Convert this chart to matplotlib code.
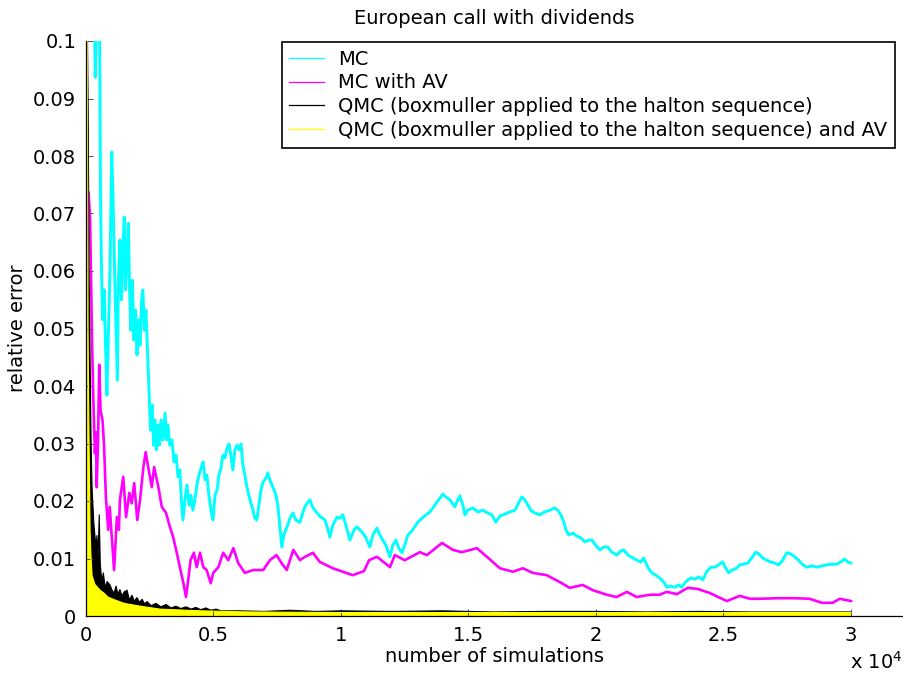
import matplotlib
matplotlib.use("Agg")
import matplotlib.pyplot as plt
from matplotlib.lines import Line2D
from matplotlib.ticker import FixedLocator, FuncFormatter

plt.rcParams["font.family"] = ["DejaVu Sans"]

# ---- data: relative error vs. number of simulations ----
mc_x = [20, 270, 360, 430, 530, 570, 610, 650, 710, 760, 820, 880, 940, 1010,
        1060, 1120, 1180, 1230, 1270, 1330, 1390, 1450, 1500, 1550, 1610, 1660,
        1710, 1760, 1820, 1880, 1940, 2000, 2060, 2120, 2180, 2230, 2290, 2350,
        2410, 2470, 2530, 2590, 2650, 2700, 2760, 2820, 2880, 2940, 3020, 3100,
        3160, 3210, 3290, 3370, 3450, 3530, 3610, 3680, 3740, 3800, 3880, 3960,
        4040, 4120, 4190, 4270, 4350, 4430, 4510, 4590, 4670, 4740, 4820, 4900,
        4980, 5060, 5140, 5210, 5290, 5370, 5450, 5530, 5610, 5680, 5760, 5840,
        5920, 6000, 6080, 6150, 6230, 6310, 6430, 6550, 6620, 6700, 6780, 6860,
        6940, 7060, 7130, 7210, 7330, 7450, 7530, 7600, 7680, 7760, 7880, 8000,
        8110, 8230, 8390, 8510, 8620, 8780, 8900, 9060, 9210, 9370, 9490, 9560,
        9680, 9840, 9960, 10070, 10190, 10350, 10510, 10620, 10740, 10860, 10980,
        11130, 11250, 11410, 11520, 11640, 11760, 11920, 12030, 12150, 12270,
        12390, 12500, 12620, 12740, 12860, 13010, 13170, 13330, 13490, 13640,
        13760, 13880, 13990, 14110, 14270, 14460, 14580, 14660, 14780, 14860,
        14970, 15170, 15370, 15560, 15760, 15920, 16070, 16230, 16420, 16620,
        16820, 16970, 17090, 17210, 17330, 17440, 17600, 17800, 17990, 18190,
        18380, 18500, 18620, 18740, 18820, 18930, 19090, 19250, 19400, 19560,
        19720, 19840, 19990, 20150, 20310, 20460, 20620, 20820, 20970, 21090,
        21250, 21440, 21600, 21760, 21870, 22030, 22190, 22340, 22500, 22660,
        22780, 22930, 23090, 23250, 23360, 23480, 23600, 23720, 23870, 24030,
        24190, 24340, 24500, 24660, 24810, 24970, 25090, 25210, 25320, 25480,
        25640, 25790, 25950, 26110, 26260, 26380, 26540, 26700, 26850, 27010,
        27170, 27320, 27480, 27640, 27790, 27950, 28110, 28260, 28460, 28660,
        28850, 29050, 29240, 29440, 29600, 29750, 29870, 30000]
mc_err = [0.2, 0.13, 0.0937, 0.105, 0.105, 0.0723, 0.0602, 0.0515, 0.0567,
          0.048, 0.0384, 0.0497, 0.0602, 0.0807, 0.0723, 0.0602, 0.0497, 0.041,
          0.0584, 0.0654, 0.055, 0.0637, 0.0694, 0.0567, 0.0619, 0.0683, 0.0567,
          0.0497, 0.0584, 0.048, 0.0532, 0.0454, 0.0515, 0.0471, 0.055, 0.0567,
          0.0497, 0.0532, 0.0463, 0.0393, 0.0323, 0.0367, 0.0297, 0.0341, 0.0289,
          0.0332, 0.0297, 0.0341, 0.0306, 0.0353, 0.0306, 0.0332, 0.0297, 0.0306,
          0.0268, 0.028, 0.0242, 0.0254, 0.0202, 0.0167, 0.0202, 0.0228, 0.0193,
          0.021, 0.0184, 0.0202, 0.0228, 0.0245, 0.0257, 0.0268, 0.0237, 0.0245,
          0.021, 0.0184, 0.0167, 0.021, 0.0219, 0.0245, 0.0257, 0.028, 0.0275,
          0.0292, 0.0299, 0.028, 0.0254, 0.0289, 0.0297, 0.0289, 0.0299, 0.0263,
          0.0245, 0.0224, 0.0202, 0.0184, 0.017, 0.0167, 0.0193, 0.0219, 0.0233,
          0.024, 0.0249, 0.0237, 0.0224, 0.021, 0.019, 0.0158, 0.012, 0.0141,
          0.0155, 0.017, 0.0179, 0.0167, 0.0163, 0.0181, 0.0193, 0.0202, 0.0188,
          0.0179, 0.0172, 0.0167, 0.015, 0.0137, 0.0158, 0.0172, 0.017, 0.0176,
          0.0158, 0.0132, 0.015, 0.0155, 0.015, 0.0144, 0.0136, 0.012, 0.0141,
          0.0153, 0.0141, 0.0132, 0.0123, 0.0103, 0.0123, 0.0132, 0.0118, 0.011,
          0.0123, 0.0141, 0.0146, 0.0153, 0.0163, 0.017, 0.0176, 0.0181, 0.019,
          0.0198, 0.0205, 0.0212, 0.0207, 0.0202, 0.019, 0.0202, 0.0209, 0.0193,
          0.0176, 0.0184, 0.0188, 0.0181, 0.0184, 0.0179, 0.0176, 0.0163, 0.0174,
          0.0177, 0.0181, 0.0184, 0.0197, 0.0207, 0.0202, 0.0193, 0.0184, 0.0179,
          0.0176, 0.0181, 0.0184, 0.0188, 0.0184, 0.0176, 0.0163, 0.015, 0.0141,
          0.0144, 0.0139, 0.0136, 0.0129, 0.0132, 0.0132, 0.0123, 0.0115, 0.012,
          0.012, 0.0111, 0.0106, 0.0113, 0.0115, 0.0106, 0.0101, 0.0097, 0.0094,
          0.0101, 0.0085, 0.0075, 0.0071, 0.0066, 0.0059, 0.005, 0.0052, 0.005,
          0.0054, 0.005, 0.0057, 0.0063, 0.0066, 0.0064, 0.0068, 0.0063, 0.0077,
          0.0085, 0.0085, 0.0089, 0.0094, 0.0083, 0.0075, 0.008, 0.0082, 0.0089,
          0.009, 0.0092, 0.0101, 0.0111, 0.0108, 0.0101, 0.0097, 0.0094, 0.0092,
          0.0089, 0.0097, 0.011, 0.0108, 0.0103, 0.0097, 0.0089, 0.0085, 0.0087,
          0.0085, 0.0087, 0.0089, 0.009, 0.009, 0.0094, 0.0099, 0.0094, 0.0092]

mcav_x = [20, 100, 160, 200, 240, 280, 310, 350, 390, 420, 470, 520, 570, 650,
          710, 780, 870, 930, 1000, 1040, 1100, 1150, 1210, 1290, 1330, 1460,
          1570, 1700, 1790, 1890, 2010, 2120, 2250, 2340, 2440, 2580, 2670, 2840,
          2970, 3140, 3290, 3420, 3560, 3680, 3820, 3920, 4010, 4100, 4230, 4340,
          4470, 4600, 4730, 4890, 4990, 5190, 5380, 5580, 5780, 5970, 6230, 6560,
          6950, 7210, 7470, 7670, 7870, 8130, 8390, 8510, 8900, 9170, 9680, 10460,
          10900, 11100, 11410, 11920, 12110, 12500, 13090, 13370, 13960, 14390,
          14740, 15330, 15720, 16230, 16740, 17130, 17520, 18070, 18580, 18970,
          19480, 19870, 20420, 20810, 21210, 21600, 22110, 22500, 22770, 23170,
          23600, 23990, 24460, 25130, 25640, 26030, 26420, 27200, 27710, 28380,
          28850, 29280, 29560, 30000]
mcav_err = [0.066, 0.0737, 0.069, 0.058, 0.047, 0.039, 0.034, 0.0283, 0.032,
            0.0224, 0.03, 0.0437, 0.0358, 0.034, 0.0294, 0.0207, 0.015, 0.019,
            0.0144, 0.012, 0.008, 0.012, 0.0172, 0.015, 0.0202, 0.0242, 0.0172,
            0.0214, 0.0196, 0.0231, 0.0167, 0.0202, 0.0259, 0.0285, 0.0259,
            0.0224, 0.0259, 0.0224, 0.019, 0.0179, 0.0155, 0.0137, 0.011, 0.0085,
            0.0057, 0.0033, 0.0063, 0.0097, 0.011, 0.0085, 0.011, 0.0085, 0.008,
            0.0057, 0.0075, 0.0085, 0.011, 0.0097, 0.0118, 0.0092, 0.0075, 0.008,
            0.008, 0.0097, 0.0106, 0.0092, 0.008, 0.0115, 0.0097, 0.0101, 0.011,
            0.0094, 0.0083, 0.0071, 0.0078, 0.0097, 0.0103, 0.0085, 0.0106,
            0.0097, 0.0111, 0.0106, 0.0127, 0.0115, 0.0111, 0.0118, 0.0103,
            0.0083, 0.0077, 0.0083, 0.0075, 0.0071, 0.0059, 0.0049, 0.0054,
            0.0045, 0.0037, 0.0033, 0.0042, 0.0033, 0.0037, 0.0037, 0.0042,
            0.0038, 0.0049, 0.0047, 0.004, 0.0026, 0.0035, 0.003, 0.003, 0.0031,
            0.0031, 0.003, 0.0023, 0.0023, 0.003, 0.0026]

qmc_x = [10, 60, 90, 120, 160, 200, 240, 310, 390, 430, 470, 520, 560, 620,
         680, 750, 830, 940, 1020, 1100, 1180, 1250, 1330, 1410, 1500, 1610,
         1700, 1800, 1900, 2000, 2100, 2200, 2300, 2390, 2560, 2740, 2940, 3140,
         3330, 3530, 3720, 3920, 4120, 4310, 4500, 4700, 4900, 5100, 5300, 6000,
         7000, 8000, 9000, 10000, 12000, 14000, 16000, 18000, 20000, 22000,
         24000, 26000, 28000, 30000]
qmc_err = [0.15, 0.1, 0.085, 0.06, 0.045, 0.03, 0.022, 0.016, 0.012, 0.014,
           0.01, 0.0176, 0.009, 0.006, 0.0075, 0.005, 0.006, 0.0054, 0.0045,
           0.004, 0.0052, 0.0038, 0.0046, 0.0035, 0.0042, 0.0045, 0.0028,
           0.0036, 0.0026, 0.0032, 0.0024, 0.0029, 0.0021, 0.0025, 0.0018,
           0.0022, 0.0016, 0.002, 0.0014, 0.0017, 0.0013, 0.0016, 0.0012,
           0.0015, 0.0011, 0.0014, 0.001, 0.0012, 0.0009, 0.0009, 0.0008,
           0.001, 0.0008, 0.0009, 0.0008, 0.0009, 0.0007, 0.0008, 0.0008,
           0.0007, 0.0008, 0.0007, 0.0007, 0.0007]

qmcav_x = [10, 50, 80, 120, 160, 200, 240, 350, 550, 700, 860, 1130, 1500,
           2000, 2900, 4500, 6500, 10000, 20000, 30000]
qmcav_err = [0.12, 0.1, 0.05, 0.03, 0.015, 0.01, 0.007, 0.0055, 0.0045, 0.004,
             0.0033, 0.0028, 0.0022, 0.0018, 0.0012, 0.0009, 0.0007, 0.0006,
             0.0006, 0.0006]

labels = ["MC", "MC with AV",
          "QMC (boxmuller applied to the halton sequence)",
          "QMC (boxmuller applied to the halton sequence) and AV"]
colors = ["#00ffff", "#ff00ff", "#000000", "#ffff00"]

x_ticks = [0, 5000, 10000, 15000, 20000, 25000, 30000]
y_ticks = [0, 0.01, 0.02, 0.03, 0.04, 0.05, 0.06, 0.07, 0.08, 0.09, 0.1]

FS = 14

fig = plt.figure(figsize=(9.04, 6.77), dpi=100)
ax = fig.add_axes([86 / 904, 61 / 677, 817 / 904, 575 / 677])

ax.plot(mc_x, mc_err, color=colors[0], lw=2.1)
ax.plot(mcav_x, mcav_err, color=colors[1], lw=1.9)
ax.fill_between(qmc_x, 0, qmc_err, color=colors[2], lw=0)
ax.plot(qmc_x, qmc_err, color=colors[2], lw=0.8)
ax.fill_between(qmcav_x, 0, qmcav_err, color=colors[3], lw=0)
ax.plot(qmcav_x, qmcav_err, color=colors[3], lw=0.8)

ax.set_xlim(0, 32040)
ax.set_ylim(0, 0.1)

for side in ("top", "right"):
    ax.spines[side].set_visible(False)
for side in ("left", "bottom"):
    ax.spines[side].set_linewidth(0.9)

ax.xaxis.set_major_locator(FixedLocator(x_ticks))
ax.yaxis.set_major_locator(FixedLocator(y_ticks))
ax.xaxis.set_major_formatter(FuncFormatter(lambda v, p: f"{v / 1e4:g}"))
ax.yaxis.set_major_formatter(FuncFormatter(lambda v, p: f"{v:g}"))
ax.tick_params(direction="in", length=5, width=0.6, labelsize=FS,
               color="#333333", pad=7)

ax.set_xlabel("number of simulations", fontsize=FS, labelpad=2)
ax.set_ylabel("relative error", fontsize=FS, labelpad=4)
ax.set_title("European call with dividends", fontsize=FS, pad=12)
fig.text(903 / 904, 4 / 677, r"x 10$^{4}$", fontsize=FS, ha="right",
         va="bottom")

handles = [Line2D([], [], color=c, lw=0.9) for c in colors]
leg = ax.legend(handles, labels, loc="upper right",
                bbox_to_anchor=(895 / 904, 1 - 42 / 677),
                bbox_transform=fig.transFigure, fontsize=FS, frameon=True,
                fancybox=False, framealpha=1, edgecolor="black",
                borderpad=0.4, labelspacing=0.24, handlelength=1.75,
                handletextpad=0.75, borderaxespad=0)
leg.get_frame().set_linewidth(1.2)

fig.savefig("out.png", dpi=100)
